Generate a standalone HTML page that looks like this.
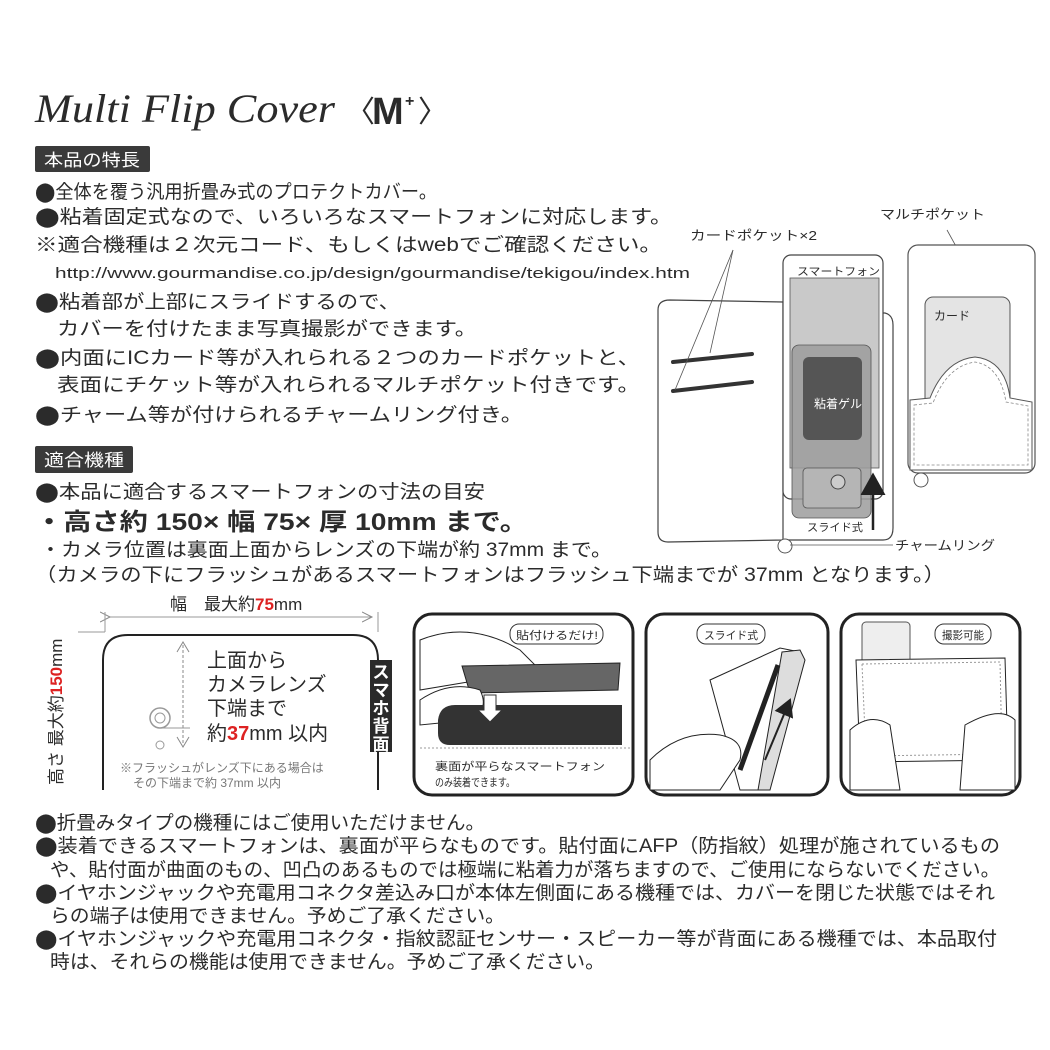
<!DOCTYPE html>
<html><head><meta charset="utf-8"><style>
html,body{margin:0;padding:0;background:#fff;}
svg{display:block;}
text{font-family:"Liberation Sans","Noto Sans CJK JP",sans-serif;fill:#2b2b2b;}
</style></head><body>
<svg width="1050" height="1050" viewBox="0 0 1050 1050" xmlns="http://www.w3.org/2000/svg">
<rect width="1050" height="1050" fill="#fff"/>
<defs>
<marker id="ah" markerWidth="10" markerHeight="10" refX="8" refY="5" orient="auto"><path d="M0,0 L9,5 L0,10 z" fill="#222"/></marker>
<marker id="oa" markerWidth="12" markerHeight="12" refX="10" refY="6" orient="auto"><path d="M0,1 L10,6 L0,11" fill="none" stroke="#888" stroke-width="1"/></marker>
</defs>

<!-- Title -->
<text x="35" y="122" font-family="Liberation Serif" font-style="italic" font-size="40" textLength="300" lengthAdjust="spacingAndGlyphs" style="font-family:'Liberation Serif',serif">Multi Flip Cover</text>
<text x="345" y="122" font-size="30" fill="#333">〈</text>
<text x="372" y="124" font-size="38" font-weight="bold">M</text>
<text x="405" y="106" font-size="16" font-weight="bold">+</text>
<text x="418" y="122" font-size="30" fill="#333">〉</text>

<!-- Section 1 -->
<rect x="35" y="146" width="115" height="26" rx="2" fill="#3a3a3a"/>
<text x="44" y="166" font-size="17" fill="#fff" style="fill:#fff" textLength="96" lengthAdjust="spacingAndGlyphs">本品の特長</text>
<g font-size="19">
<text x="35" y="198" textLength="402" lengthAdjust="spacingAndGlyphs">⬤全体を覆う汎用折畳み式のプロテクトカバー。</text>
<text x="35" y="223" textLength="637" lengthAdjust="spacingAndGlyphs">⬤粘着固定式なので、いろいろなスマートフォンに対応します。</text>
<text x="35" y="251" textLength="627" lengthAdjust="spacingAndGlyphs">※適合機種は２次元コード、もしくはwebでご確認ください。</text>
<text x="55" y="278" font-size="15" textLength="635" lengthAdjust="spacingAndGlyphs">http://www.gourmandise.co.jp/design/gourmandise/tekigou/index.htm</text>
<text x="35" y="308" textLength="365" lengthAdjust="spacingAndGlyphs">⬤粘着部が上部にスライドするので、</text>
<text x="57" y="335" textLength="420" lengthAdjust="spacingAndGlyphs">カバーを付けたまま写真撮影ができます。</text>
<text x="35" y="364" textLength="605" lengthAdjust="spacingAndGlyphs">⬤内面にICカード等が入れられる２つのカードポケットと、</text>
<text x="57" y="391" textLength="583" lengthAdjust="spacingAndGlyphs">表面にチケット等が入れられるマルチポケット付きです。</text>
<text x="35" y="421" textLength="488" lengthAdjust="spacingAndGlyphs">⬤チャーム等が付けられるチャームリング付き。</text>
</g>

<!-- Section 2 -->
<rect x="35" y="446" width="98" height="27" rx="2" fill="#3a3a3a"/>
<text x="44" y="466" font-size="17" fill="#fff" style="fill:#fff" textLength="80" lengthAdjust="spacingAndGlyphs">適合機種</text>
<text x="35" y="498" font-size="19" textLength="450" lengthAdjust="spacingAndGlyphs">⬤本品に適合するスマートフォンの寸法の目安</text>
<text x="35" y="530" font-size="24" font-weight="bold" textLength="493" lengthAdjust="spacingAndGlyphs">・高さ約 150× 幅 75× 厚 10mm まで。</text>
<text x="40" y="556" font-size="19" textLength="572" lengthAdjust="spacingAndGlyphs">・カメラ位置は裏面上面からレンズの下端が約 37mm まで。</text>
<text x="35" y="581" font-size="19" textLength="910" lengthAdjust="spacingAndGlyphs">（カメラの下にフラッシュがあるスマートフォンはフラッシュ下端までが 37mm となります。）</text>

<!-- Right top diagram -->
<text x="880" y="219" font-size="13" textLength="105" lengthAdjust="spacingAndGlyphs">マルチポケット</text>
<text x="690" y="240" font-size="13" textLength="127" lengthAdjust="spacingAndGlyphs">カードポケット×2</text>
<line x1="947" y1="230" x2="973" y2="277" stroke="#555" stroke-width="0.8"/>
<path d="M670,300 L783,302 L783,540 L668,542 Q658,542 658,532 L658,310 Q658,300 670,300 Z" fill="#fff" stroke="#444" stroke-width="1.2"/>
<path d="M883,313 L885,313 Q893,315 893,325 L893,528 Q893,540 883,540 L783,540" fill="#fff" stroke="#444" stroke-width="1.2"/>
<line x1="673" y1="362" x2="752" y2="354" stroke="#333" stroke-width="4" stroke-linecap="round"/>
<line x1="673" y1="391" x2="752" y2="382" stroke="#333" stroke-width="4" stroke-linecap="round"/>
<line x1="733" y1="250" x2="710" y2="353" stroke="#555" stroke-width="0.8"/>
<line x1="733" y1="250" x2="675" y2="390" stroke="#555" stroke-width="0.8"/>
<rect x="783" y="255" width="100" height="244" rx="8" fill="#fff" stroke="#444" stroke-width="1.2"/>
<text x="797" y="275" font-size="11" textLength="83" lengthAdjust="spacingAndGlyphs">スマートフォン</text>
<rect x="790" y="278" width="89" height="190" fill="#c9c9c9" stroke="#555" stroke-width="0.8"/>
<rect x="792" y="345" width="79" height="173" rx="7" fill="#9c9c9c" fill-opacity="0.85" stroke="#555" stroke-width="0.8"/>
<rect x="803" y="468" width="58" height="40" rx="4" fill="#b5b5b5" stroke="#555" stroke-width="0.8"/>
<circle cx="838" cy="482" r="7" fill="#ccc" stroke="#444"/>
<rect x="803" y="357" width="59" height="83" rx="6" fill="#555"/>
<text x="814" y="408" font-size="12" fill="#fff" style="fill:#fff">粘着ゲル</text>
<line x1="873" y1="530" x2="873" y2="475" stroke="#222" stroke-width="2.5" marker-end="url(#ah)"/>
<text x="807" y="531" font-size="11" textLength="56" lengthAdjust="spacingAndGlyphs">スライド式</text>
<circle cx="785" cy="546" r="7" fill="#fff" stroke="#555"/>
<line x1="790" y1="545" x2="893" y2="545" stroke="#555" stroke-width="0.8"/>
<text x="895" y="550" font-size="13" textLength="100" lengthAdjust="spacingAndGlyphs">チャームリング</text>
<rect x="908" y="245" width="127" height="228" rx="10" fill="#fff" stroke="#555" stroke-width="1.2"/>
<rect x="925" y="297" width="85" height="110" rx="8" fill="#e4e4e4" stroke="#555"/>
<text x="934" y="320" font-size="12">カード</text>
<path d="M910,400 L930,398 Q945,360 975,357 Q1005,360 1010,398 L1032,402 L1032,470 L910,470 Z" fill="#fff" stroke="#555"/>
<path d="M914,405 L933,403 Q947,366 975,362 Q1000,366 1006,402 L1028,406 L1028,465 L914,465 Z" fill="none" stroke="#888" stroke-dasharray="3,2" stroke-width="0.8"/>
<circle cx="921" cy="480" r="7" fill="#fff" stroke="#555"/>

<!-- Bottom-left dimension diagram -->
<text x="170" y="610" font-size="17">幅　最大約<tspan font-weight="bold" fill="#d22" style="fill:#d22">75</tspan>mm</text>
<line x1="110" y1="617" x2="372" y2="617" stroke="#999" stroke-width="1" marker-end="url(#oa)" marker-start="url(#oa)"/>
<line x1="105" y1="612" x2="105" y2="632" stroke="#999"/>
<line x1="378" y1="612" x2="378" y2="632" stroke="#999"/>
<line x1="78" y1="632" x2="105" y2="632" stroke="#999"/>
<path d="M103,790 L103,660 Q103,635 128,635 L353,635 Q378,635 378,660 L378,790" fill="none" stroke="#222" stroke-width="2"/>
<text transform="translate(62,785) rotate(-90)" font-size="17">高さ 最大約<tspan font-weight="bold" fill="#d22" style="fill:#d22">150</tspan>mm</text>
<line x1="183" y1="645" x2="183" y2="745" stroke="#888" stroke-dasharray="3,2"/>
<path d="M177,652 L183,642 L189,652" fill="none" stroke="#888"/>
<path d="M177,737 L183,747 L189,737" fill="none" stroke="#888"/>
<circle cx="160" cy="718" r="10" fill="none" stroke="#999" stroke-width="1.5"/>
<circle cx="160" cy="718" r="5" fill="none" stroke="#999"/>
<circle cx="160" cy="745" r="4" fill="none" stroke="#999"/>
<line x1="160" y1="728" x2="190" y2="728" stroke="#999"/>
<g font-size="20">
<text x="207" y="667">上面から</text>
<text x="207" y="691">カメラレンズ</text>
<text x="207" y="715">下端まで</text>
<text x="207" y="740">約<tspan font-weight="bold" fill="#d22" style="fill:#d22">37</tspan>mm 以内</text>
</g>
<rect x="370" y="660" width="22" height="92" fill="#2a2a2a"/>
<g font-size="17" font-weight="bold" text-anchor="middle">
<text x="381" y="678" fill="#fff" style="fill:#fff">ス</text>
<text x="381" y="696" fill="#fff" style="fill:#fff">マ</text>
<text x="381" y="714" fill="#fff" style="fill:#fff">ホ</text>
<text x="381" y="732" fill="#fff" style="fill:#fff">背</text>
<text x="381" y="750" fill="#fff" style="fill:#fff">面</text>
</g>
<text x="120" y="772" font-size="12" fill="#777" style="fill:#777">※フラッシュがレンズ下にある場合は</text>
<text x="133" y="787" font-size="12" fill="#777" style="fill:#777">その下端まで約 37mm 以内</text>

<!-- Panel 1 -->
<rect x="414" y="614" width="219" height="181" rx="18" fill="#fff" stroke="#222" stroke-width="3"/>
<rect x="510" y="624" width="93" height="20" rx="9" fill="#fff" stroke="#333"/>
<text x="516" y="639" font-size="11" textLength="82" lengthAdjust="spacingAndGlyphs">貼付けるだけ!</text>
<path d="M420,640 Q470,620 520,650 L540,670 L420,690 Z" fill="#fff" stroke="#222"/>
<path d="M462,666 L620,663 L618,690 L470,693 Z" fill="#666" stroke="#222"/>
<path d="M420,700 Q450,680 480,690 Q490,710 470,720 L420,725 Z" fill="#fff" stroke="#222"/>
<path d="M438,720 Q440,705 455,705 L622,705 L622,745 L450,745 Q438,745 438,733 Z" fill="#333"/>
<path d="M484,695 L484,710 L478,710 L490,722 L502,710 L496,710 L496,695 Z" fill="#fff" stroke="#333"/>
<line x1="420" y1="748" x2="630" y2="748" stroke="#999" stroke-dasharray="2,2"/>
<text x="435" y="770" font-size="11" textLength="170" lengthAdjust="spacingAndGlyphs">裏面が平らなスマートフォン</text>
<text x="435" y="786" font-size="11" textLength="80" lengthAdjust="spacingAndGlyphs">のみ装着できます。</text>

<!-- Panel 2 -->
<rect x="646" y="614" width="182" height="181" rx="18" fill="#fff" stroke="#222" stroke-width="3"/>
<rect x="697" y="624" width="68" height="20" rx="9" fill="#fff" stroke="#333"/>
<text x="704" y="639" font-size="11" textLength="54" lengthAdjust="spacingAndGlyphs">スライド式</text>
<path d="M710,680 L780,648 L800,652 L760,790 L740,790 Z" fill="#fff" stroke="#222"/>
<path d="M782,652 L800,650 L805,660 L770,790 L758,790 Z" fill="#ddd" stroke="#222"/>
<line x1="778" y1="665" x2="740" y2="770" stroke="#222" stroke-width="5"/>
<line x1="765" y1="760" x2="790" y2="700" stroke="#222" stroke-width="2" marker-end="url(#ah)"/>
<path d="M650,760 Q680,730 720,735 Q745,740 740,760 L720,790 L650,790 Z" fill="#fff" stroke="#222"/>

<!-- Panel 3 -->
<rect x="841" y="614" width="179" height="181" rx="18" fill="#fff" stroke="#222" stroke-width="3"/>
<rect x="935" y="624" width="56" height="20" rx="9" fill="#fff" stroke="#333"/>
<text x="942" y="639" font-size="11" textLength="42" lengthAdjust="spacingAndGlyphs">撮影可能</text>
<rect x="862" y="622" width="48" height="45" rx="4" fill="#eee" stroke="#555"/>
<path d="M856,660 L1005,658 L1008,760 L860,762 Z" fill="#fff" stroke="#222"/>
<path d="M862,664 L1000,662 L1002,754 L866,756 Z" fill="none" stroke="#999" stroke-dasharray="2,2"/>
<path d="M850,730 Q870,712 890,725 L900,790 L850,790 Z" fill="#fff" stroke="#222"/>
<path d="M965,725 Q1000,705 1015,720 L1015,790 L960,790 Z" fill="#fff" stroke="#222"/>

<!-- Bottom notes -->
<g font-size="19">
<text x="35" y="829" textLength="450" lengthAdjust="spacingAndGlyphs">⬤折畳みタイプの機種にはご使用いただけません。</text>
<text x="35" y="852" textLength="965" lengthAdjust="spacingAndGlyphs">⬤装着できるスマートフォンは、裏面が平らなものです。貼付面にAFP（防指紋）処理が施されているもの</text>
<text x="50" y="876" textLength="950" lengthAdjust="spacingAndGlyphs">や、貼付面が曲面のもの、凹凸のあるものでは極端に粘着力が落ちますので、ご使用にならないでください。</text>
<text x="35" y="899" textLength="960" lengthAdjust="spacingAndGlyphs">⬤イヤホンジャックや充電用コネクタ差込み口が本体左側面にある機種では、カバーを閉じた状態ではそれ</text>
<text x="50" y="922" textLength="455" lengthAdjust="spacingAndGlyphs">らの端子は使用できません。予めご了承ください。</text>
<text x="35" y="945" textLength="962" lengthAdjust="spacingAndGlyphs">⬤イヤホンジャックや充電用コネクタ・指紋認証センサー・スピーカー等が背面にある機種では、本品取付</text>
<text x="50" y="968" textLength="555" lengthAdjust="spacingAndGlyphs">時は、それらの機能は使用できません。予めご了承ください。</text>
</g>
</svg>
</body></html>
